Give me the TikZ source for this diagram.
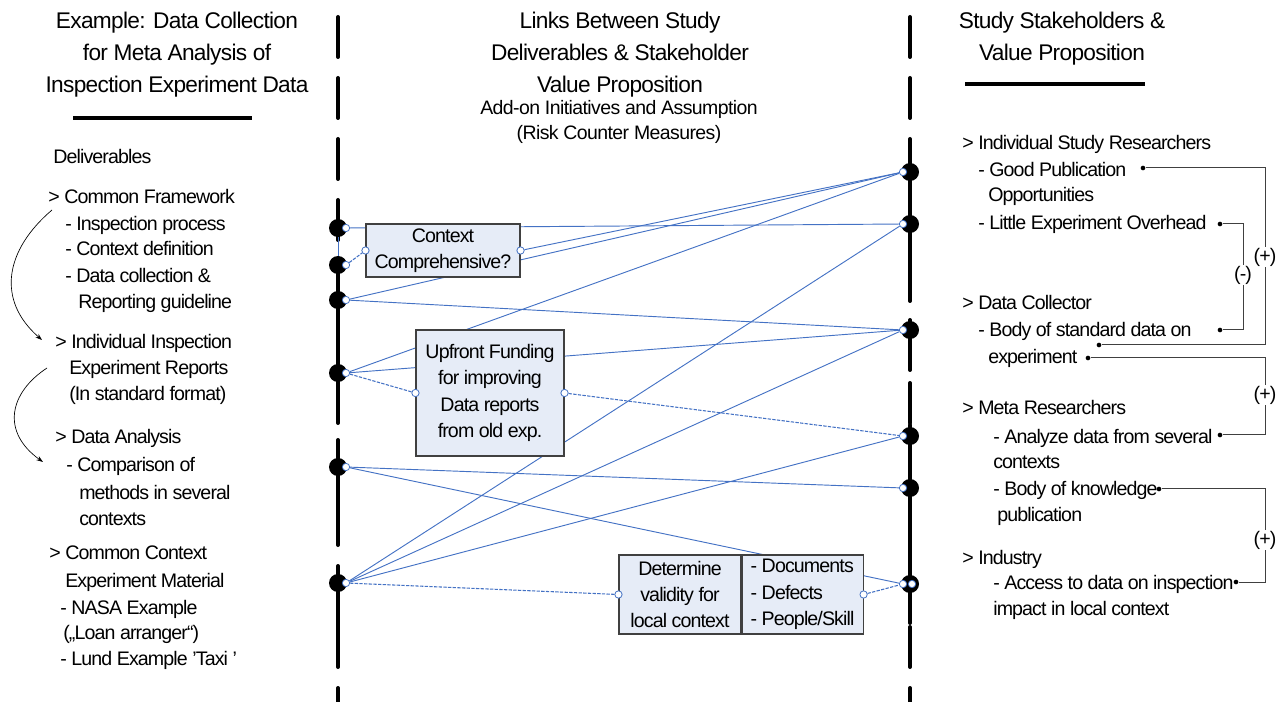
\documentclass[tikz,border=0pt]{standalone}
\usepackage{fontspec}
\setmainfont{Liberation Sans}[LetterSpace=-3]
\usetikzlibrary{arrows.meta}
\definecolor{linkblue}{HTML}{4472C4}
\definecolor{boxfill}{HTML}{E6ECF7}
\definecolor{boxline}{HTML}{404040}
\newcommand\titlefont{\fontsize{17}{24}\selectfont}
\newcommand\bodyfont{\fontsize{14.7}{19.8}\selectfont\addfontfeature{LetterSpace=-4.5}}
\newcommand\subfont{\fontsize{14.6}{18.8}\selectfont}
\begin{document}
\begin{tikzpicture}[x=0.75pt,y=-0.75pt,
	lifeline/.style={line width=3pt,line cap=round,dash pattern=on 30pt off 15.75pt},
	bar/.style={line width=3pt,line cap=round},
	bigdot/.style={circle,fill=black,minimum size=13.5pt,inner sep=0pt},
	port/.style={circle,draw=linkblue,fill=white,minimum size=5.5pt,inner sep=0pt,line width=0.6pt},
	link/.style={draw=linkblue,line width=0.7pt},
	optlink/.style={link,line width=0.8pt,dash pattern=on 2.5pt off 1pt},
	box/.style={draw=boxline,fill=boxfill,line width=0.8pt,inner sep=0pt,align=center,font=\bodyfont},
	txt/.style={anchor=base west,inner sep=0pt,font=\bodyfont},
	brk/.style={draw=black!75,line width=0.75pt},
	bdot/.style={circle,fill=black,minimum size=3.5pt,inner sep=0pt},
	sign/.style={fill=white,inner sep=1pt,font=\bodyfont},
	flow/.style={-{Stealth[length=5pt,width=3.5pt]},line width=0.5pt}]
	\useasboundingbox (0,0) rectangle (1283,702);
	% lifelines
	\draw[lifeline] (338,17) -- (338,720);
	\draw[lifeline] (910,17) -- (910,720);
	\foreach \i/\y/\a/\b in {1/228/202/228,2/265/265/300,3/300/300/340,4/373/357/412,5/467/440/508,6/583/570/629}
	{
	\draw[bar] (338,\a) -- (338,\b);
	\node[bigdot] (ld\i) at (338,\y) {};
	}
	\foreach \i/\y/\a/\b in {1/172/153/208,2/224/212/263,3/330/320/370,4/436/425/473,5/488/475/528,6/584/545/623}
	{
	\draw[bar] (910,\a) -- (910,\b);
	\node[bigdot] (rd\i) at (910,\y) {};
	}
	\foreach \i/\y in {1/228,2/265,3/300,4/373,5/467,6/583}
	\node[port] (lp\i) at (346,\y) {};
	\foreach \i/\y in {1/172,2/224,3/330,4/436,5/488,6/584}
	\node[port] (rp\i) at (903,\y) {};
	\node[port] (rp6b) at (912,584) {};
	% links
	\draw[link] (ld1.south) -- (ld2.north);
	\draw[link] (lp1) -- (rp2);
	\draw[link] (lp3) -- (rp1);
	\draw[link] (lp3) -- (rp3);
	\draw[link] (lp4) -- (rp1);
	\draw[link] (lp4) -- (rp3);
	\draw[link] (lp5) -- (rp5);
	\draw[link] (lp5) -- (rp6);
	\draw[link] (lp6) -- (rp2);
	\draw[link] (lp6) -- (rp3);
	\draw[link] (lp6) -- (rp4);
	% initiatives
	\node[box,minimum width=115.5pt,minimum height=39.75pt] (ctx) at (443,250.5) {Context\\Comprehensive?};
	\node[box,minimum width=111pt,minimum height=94.5pt] (fund) at (490,393) {Upfront Funding\\for improving\\Data reports\\from old exp.};
	\node[box,minimum width=91.5pt,minimum height=59.25pt] (valid) at (680,594.5) {Determine\\validity for\\local context};
	\node[box,minimum width=90.75pt,minimum height=59.25pt,align=left,anchor=west] (validr) at (valid.east) {- Documents\\- Defects\\- People/Skill};
	\node[port] (ctxin) at (ctx.west) {};
	\node[port] (ctxout) at (ctx.east) {};
	\node[port] (fundin) at (fund.west) {};
	\node[port] (fundout) at (fund.east) {};
	\node[port] (validin) at (valid.west) {};
	\node[port] (validout) at (validr.east) {};
	\draw[link] (ctxout) -- (rp1);
	\draw[optlink] (lp2) -- (ctxin);
	\draw[optlink] (lp4) -- (fundin);
	\draw[optlink] (fundout) -- (rp4);
	\draw[optlink] (lp6) -- (validin);
	\draw[optlink] (validout) -- (rp6);
	% titles
	\node[font=\titlefont,align=center] (ltitle) at (177,55) {Example: Data Collection\\for Meta Analysis of\\Inspection Experiment Data};
	\draw[line width=2.5pt] (73,118) -- (252,118);
	\node[font=\titlefont,align=center] (mtitle) at (620,55) {Links Between Study\\Deliverables \& Stakeholder\\Value Proposition};
	\node[font=\subfont,align=center] (msub) at (619,122) {Add-on Initiatives and Assumption\\(Risk Counter Measures)};
	\node[font=\titlefont,align=center] (rtitle) at (1062,39) {Study Stakeholders \&\\Value Proposition};
	\draw[line width=2.5pt] (965,84) -- (1145,84);
	% deliverables
	\node[txt] (dl) at (53,164) {Deliverables};
	\node[txt] (cf) at (48,204) {> Common Framework};
	\node[txt] (cf1) at (65,231) {- Inspection process};
	\node[txt] (cf2) at (65,256) {- Context definition};
	\node[txt] (cf3) at (65,283) {- Data collection \&};
	\node[txt] (cf4) at (78,309) {Reporting guideline};
	\node[txt] (ii) at (55,349) {> Individual Inspection};
	\node[txt] (er) at (69,375) {Experiment Reports};
	\node[txt] (sf) at (69,401) {(In standard format)};
	\node[txt] (da) at (55,444) {> Data Analysis};
	\node[txt] (cmp) at (66,472) {- Comparison of};
	\node[txt] (cmp2) at (79,499) {methods in several};
	\node[txt] (cmp3) at (79,525) {contexts};
	\node[txt] (cc) at (49,560) {> Common Context};
	\node[txt] (cc1) at (65,587) {Experiment Material};
	\node[txt] (cc2) at (60,614) {- NASA Example};
	\node[txt] (cc3) at (63,639) {(„Loan arranger“)};
	\node[txt] (cc4) at (60,665) {- Lund Example ’Taxi ’};
	\draw[flow] ([shift={(4,6)}]cf.base west) .. controls +(-47,40) and +(-46,-40) .. ([shift={(-13,-9)}]ii.base west);
	\draw[flow] ([shift={(-22,-7)}]er.base west) .. controls +(-38,25) and +(-42,-30) .. ([shift={(-23,-10)}]cmp.base west);
	% stakeholders
	\node[txt] (isr) at (962,150) {> Individual Study Researchers};
	\node[txt] (isr1) at (978,177) {- Good Publication};
	\node[txt] (isr2) at (988,202) {Opportunities};
	\node[txt] (isr3) at (978,230) {- Little Experiment Overhead};
	\node[txt] (dc) at (962,310) {> Data Collector};
	\node[txt] (dc1) at (978,337) {- Body of standard data on};
	\node[txt] (dc2) at (988,364) {experiment};
	\node[txt] (mr) at (962,415) {> Meta Researchers};
	\node[txt] (mr1) at (993,444) {- Analyze data from several};
	\node[txt] (mr2) at (993,469) {contexts};
	\node[txt] (mr3) at (993,495) {- Body of knowledge};
	\node[txt] (mr4) at (997,522) {publication};
	\node[txt] (ind) at (962,564) {> Industry};
	\node[txt] (ind1) at (993,589) {- Access to data on inspection};
	\node[txt] (ind2) at (993,615) {impact in local context};
	% value links
	\coordinate (vx) at (1265,0);
	\node[bdot] (gpd) at (1143,168) {};
	\node[bdot] (lod) at (1220,224) {};
	\node[bdot] (bsd) at (1220,330) {};
	\node[bdot] (bsd2) at (1099,345) {};
	\node[bdot] (exd) at (1088,358) {};
	\node[bdot] (azd) at (1220,435) {};
	\node[bdot] (bkd) at (1159,489) {};
	\node[bdot] (acd) at (1236,582) {};
	\draw[brk] (gpd) -- (gpd -| vx) |- (bsd2);
	\draw[brk] (lod) -- ++(23,0) |- (bsd);
	\draw[brk] (exd) -- (exd -| vx) |- (azd);
	\draw[brk] (bkd) -- (bkd -| vx) |- (acd);
	\node[sign] (s1) at (1265,257) {(+)};
	\node[sign] (s2) at (1243,275) {(-)};
	\node[sign] (s3) at (1265,395) {(+)};
	\node[sign] (s4) at (1265,540) {(+)};
\end{tikzpicture}
\end{document}
